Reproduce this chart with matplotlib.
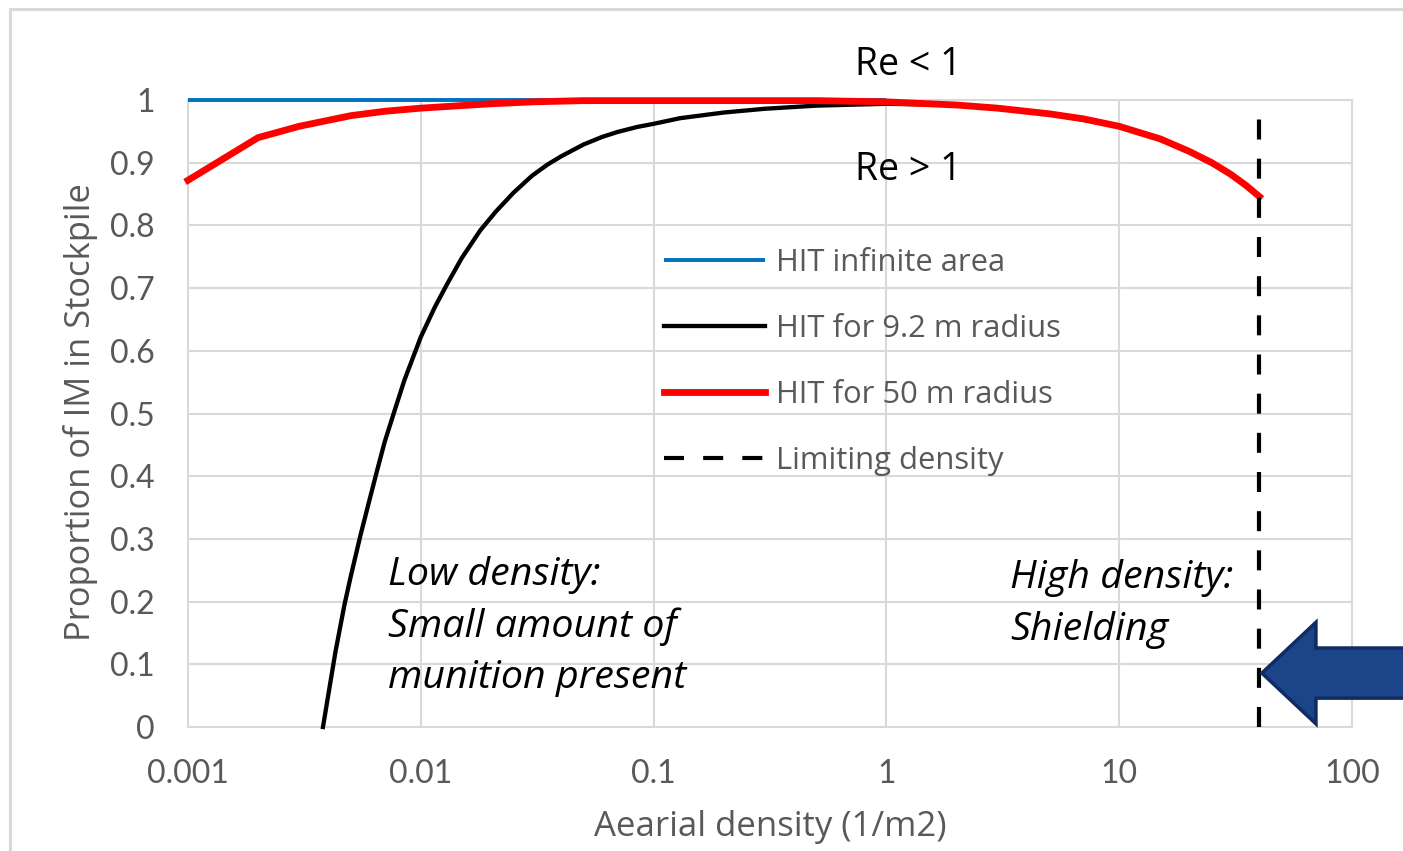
import matplotlib
matplotlib.use("Agg")
import matplotlib.pyplot as plt
from matplotlib.patches import Rectangle, Polygon

plt.rcParams["font.family"] = ["Open Sans", "DejaVu Sans"]

# areal density (1/m2) and hit proportions read for each curve
infinite_x = [0.001, 1]
infinite_y = [1.0, 1.0]

r9_x = [0.0038, 0.004, 0.0043, 0.0047, 0.005, 0.0055, 0.006, 0.0065, 0.007,
        0.0078, 0.0085, 0.01, 0.0115, 0.013, 0.015, 0.018, 0.021, 0.025, 0.03,
        0.035, 0.04, 0.05, 0.06, 0.07, 0.085, 0.1, 0.13, 0.2, 0.3, 0.5, 1, 2,
        3, 5, 10, 15, 20, 30, 40]
r9_y = [0.0, 0.05, 0.12, 0.195, 0.24, 0.305, 0.36, 0.41, 0.455,
        0.51, 0.553, 0.622, 0.67, 0.707, 0.748, 0.792, 0.822, 0.852, 0.879,
        0.897, 0.910, 0.929, 0.941, 0.949, 0.957, 0.962, 0.971, 0.980, 0.986,
        0.991, 0.994, 0.992, 0.988, 0.978, 0.958, 0.938, 0.918, 0.882, 0.846]

r50_x = [0.001, 0.002, 0.003, 0.005, 0.007, 0.01, 0.02, 0.03, 0.05, 0.1, 0.2,
         0.5, 1, 2, 3, 5, 7, 10, 15, 20, 25, 30, 35, 40]
r50_y = [0.872, 0.940, 0.958, 0.975, 0.982, 0.987, 0.994, 0.997, 0.999, 0.999,
         0.999, 0.999, 0.997, 0.992, 0.987, 0.978, 0.970, 0.958, 0.938, 0.918,
         0.900, 0.882, 0.864, 0.846]

limit_x = [40, 40]
limit_y = [0.0, 0.97]

x_ticks = [0.001, 0.01, 0.1, 1, 10, 100]
x_tick_labels = ["0.001", "0.01", "0.1", "1", "10", "100"]
y_ticks = [0, 0.1, 0.2, 0.3, 0.4, 0.5, 0.6, 0.7, 0.8, 0.9, 1]
y_tick_labels = ["0", "0.1", "0.2", "0.3", "0.4", "0.5", "0.6", "0.7", "0.8", "0.9", "1"]

grey = "#595959"
grid_c = "#D9D9D9"

fig = plt.figure(figsize=(14.03, 8.51), dpi=100)
ax = fig.add_axes([188 / 1403, 1 - 727 / 851, 1164 / 1403, 627 / 851])

# outer frame of the chart area
fig.patches.append(Rectangle((10 / 1403, -0.05), 1.1, 1.05 - 9 / 851,
                             transform=fig.transFigure, fill=False,
                             edgecolor=grid_c, lw=2.2, zorder=0))

ax.plot(infinite_x, infinite_y, color="#0070C0", lw=2.8, label="HIT infinite area",
        solid_capstyle="butt", zorder=3, clip_on=False)
ax.plot(r9_x, r9_y, color="black", lw=3.1, label="HIT for 9.2 m radius", zorder=4,
        clip_on=False)
ax.plot(r50_x, r50_y, color="#FF0000", lw=4.9, label="HIT for 50 m radius", zorder=5,
        clip_on=False)
ax.plot(limit_x, limit_y, color="black", lw=3, ls=(0, (4.8, 4.6)),
        label="Limiting density", zorder=6, clip_on=False)

ax.set_xscale("log")
ax.set_xlim(0.001, 100)
ax.set_ylim(0, 1)
ax.set_xticks(x_ticks)
ax.set_xticklabels(x_tick_labels, family=["Lato", "DejaVu Sans"])
ax.xaxis.set_minor_locator(matplotlib.ticker.NullLocator())
ax.set_yticks(y_ticks)
ax.set_yticklabels(y_tick_labels, family=["Lato", "DejaVu Sans"])
ax.tick_params(length=0, labelsize=23, colors=grey)
ax.tick_params(axis="x", pad=23)
ax.tick_params(axis="y", pad=24)
ax.grid(True, color=grid_c, lw=1.5)
ax.set_axisbelow(True)
for s in ax.spines.values():
    s.set_color(grid_c)
    s.set_linewidth(1.5)

ax.set_xlabel("Aearial density (1/m2)", fontsize=25, color=grey)
ax.xaxis.set_label_coords(0.5, -0.133)
ax.set_ylabel("Proportion of IM in Stockpile", fontsize=24.8, color=grey)
ax.yaxis.set_label_coords(-0.0773, 0.502)

ax.legend(loc="upper left", bbox_to_anchor=(664 / 1403, 1 - 248 / 851),
          bbox_transform=fig.transFigure, frameon=False, fontsize=22.3,
          labelcolor=grey, handlelength=3.25, handletextpad=0.35,
          labelspacing=1.16, borderpad=0, borderaxespad=0)

ax.text(1.24, 1.056, "Re < 1", fontsize=27, ha="center", va="center", clip_on=False)
ax.text(1.24, 0.888, "Re > 1", fontsize=27, ha="center", va="center")

low_lines = ["Low density:", "Small amount of", "munition present"]
low_base = [0.2265, 0.1435, 0.0622]
for txt, yb in zip(low_lines, low_base):
    ax.text(0.0072, yb, txt, fontsize=28.4, style="italic", ha="left", va="baseline")

high_lines = ["High density:", "Shielding"]
high_base = [0.2217, 0.1388]
for txt, yb in zip(high_lines, high_base):
    ax.text(3.4, yb, txt, fontsize=28.4, style="italic", ha="left", va="baseline")

# block arrow pointing at the limiting density line
arrow = Polygon([(41, 0.086), (70, 0.167), (70, 0.126), (200, 0.126),
                 (200, 0.046), (70, 0.046), (70, 0.005)],
                closed=True, facecolor="#1B4489", edgecolor="#102C60",
                lw=2.5, zorder=7, clip_on=False)
ax.add_patch(arrow)

fig.savefig("out.png", dpi=100)
